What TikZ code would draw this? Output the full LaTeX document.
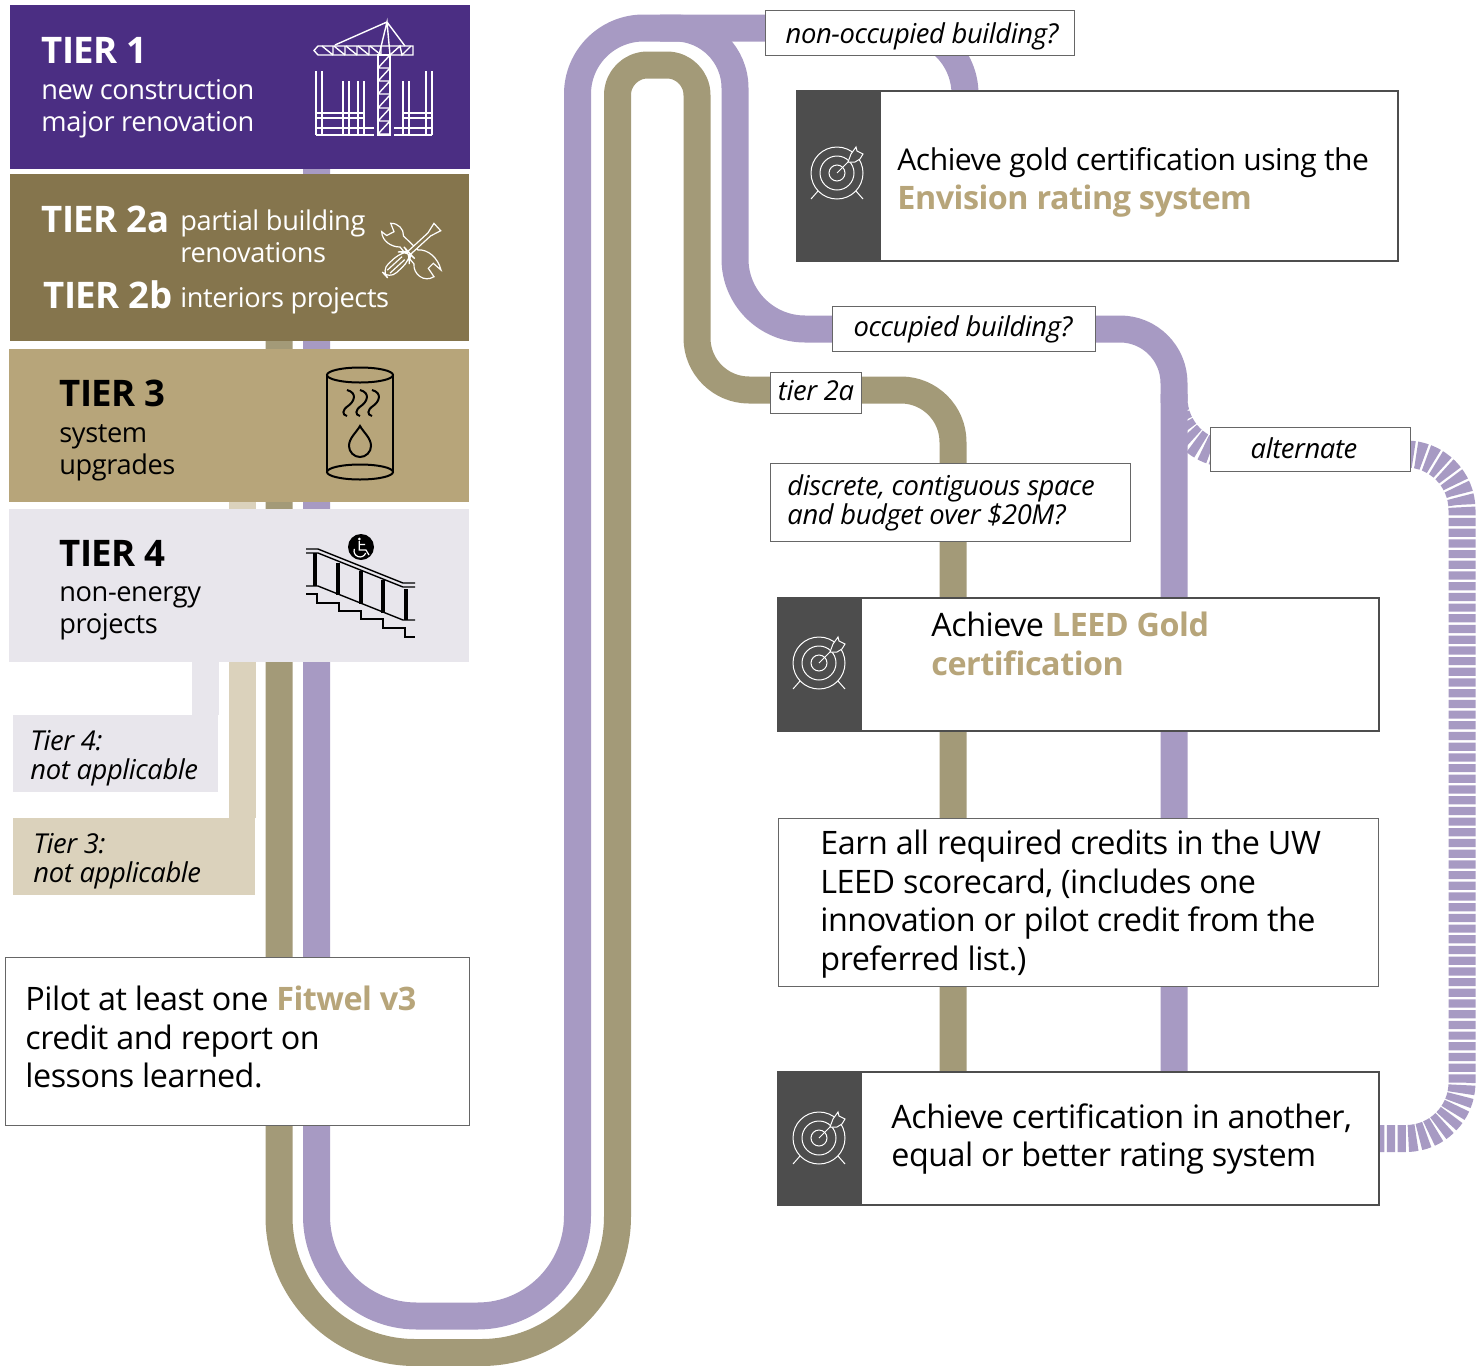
\documentclass[tikz,border=0pt]{standalone}
\usepackage{fontspec}
\setmainfont[LetterSpace=-1.5]{Open Sans}
\usetikzlibrary{backgrounds}

\definecolor{uwpurple}{HTML}{4B2E83}
\definecolor{uwmetal}{HTML}{85754D}
\definecolor{uwgold}{HTML}{B7A57A}
\definecolor{uwmist}{HTML}{E8E6EC}
\definecolor{bandlilac}{HTML}{A79AC3}
\definecolor{bandtan}{HTML}{A39A78}
\definecolor{bandsand}{HTML}{DBD2BC}
\definecolor{panelgray}{HTML}{4D4D4D}

\tikzset{
  tierbox/.style={anchor=north west,inner sep=0,outer sep=0},
  thinbox/.style={anchor=north west,inner sep=0,outer sep=0,draw=black!60,line width=0.5pt,fill=white},
  certbox/.style={anchor=north west,inner sep=0,outer sep=0,draw=panelgray,line width=1pt,fill=white},
  panelbox/.style={anchor=north west,inner sep=0,outer sep=0,fill=panelgray,minimum width=42pt},
  title/.style={anchor=west,inner sep=0,font=\bfseries\fontsize{18.3}{20}\selectfont},
  subtext/.style={anchor=west,inner sep=0,align=left,font=\fontsize{13.6}{16}\selectfont},
  bigtext/.style={anchor=west,inner sep=0,align=left,font=\fontsize{16.15}{19.25}\selectfont},
  asktext/.style={inner sep=0,align=left,font=\itshape\fontsize{13.7}{14.5}\selectfont},
  band/.style={line width=13.5pt,line join=round},
  targetmark/.pic={
    \draw[white,line width=0.5pt] (0,0) circle (26) circle (17) circle (8);
    \draw[white,line width=0.5pt] (-19,18) -- (-26,26) (19,18) -- (26,26) (0,0) -- (11,-11);
    \draw[white,line width=0.5pt,fill=panelgray] (11,-11) -- (14,-19) -- (19,-26) -- (20,-22)
      -- (26,-19) -- (23,-14) -- (18,-11) -- cycle;
  },
}

\begin{document}
\begin{tikzpicture}[x=0.5pt,y=-0.5pt]
  \useasboundingbox (0,0) rectangle (1480,1366);

  % Tiers
  \node[tierbox,fill=uwpurple,minimum width=230pt,minimum height=82pt] (tierOne) at (10,5) {};
  \node[tierbox,fill=uwmetal,minimum width=229.5pt,minimum height=83.5pt] (tierTwo) at (10,174) {};
  \node[tierbox,fill=uwgold,minimum width=230pt,minimum height=76.5pt] (tierThree) at (9,349) {};
  \node[tierbox,fill=uwmist,minimum width=230pt,minimum height=76.5pt] (tierFour) at (9,509) {};

  % Tier texts
  \node[title,white] (titleOne) at (41,50) {TIER 1};
  \node[subtext,white] (subOne) at (41,109) {new construction\\major renovation};
  \node[title,white] (titleTwoA) at (41,219) {TIER 2a};
  \node[subtext,white] (subTwoA) at (180,236) {partial building\\renovations};
  \node[title,white] (titleTwoB) at (43,295) {TIER 2b};
  \node[subtext,white] (subTwoB) at (180,301) {interiors projects};
  \node[title] (titleThree) at (59,393) {TIER 3};
  \node[subtext] (subThree) at (59,453) {system\\upgrades};
  \node[title] (titleFour) at (59,553) {TIER 4};
  \node[subtext] (subFour) at (59,613) {non-energy\\projects};

  % Not applicable boxes
  \node[tierbox,fill=uwmist,minimum width=102.5pt,minimum height=38.5pt] (skipFour) at (13,715) {};
  \node[tierbox,fill=bandsand,minimum width=121pt,minimum height=38.5pt] (skipThree) at (13,818) {};
  \node[asktext,anchor=west] (skipFourText) at (30,758) {Tier 4:\\not applicable};
  \node[asktext,anchor=west] (skipThreeText) at (33,861) {Tier 3:\\not applicable};

  % Requirement boxes
  \node[thinbox,minimum width=232pt,minimum height=84pt] (pilot) at (5,957) {};
  \node[bigtext,anchor=west] (pilotText) at (25,1037) {Pilot at least one \textcolor{uwgold}{\bfseries Fitwel v3}\\credit and report on\\lessons learned.};

  \node[certbox,minimum width=300.5pt,minimum height=85pt] (envision) at (797,91) {};
  \node[panelbox,minimum height=85pt] (envisionPanel) at (797,91) {};
  \node[bigtext,anchor=west] (envisionText) at (897,182.5) {{\fontsize{15}{19.25}\selectfont Achieve gold certification using the}\\\textcolor{uwgold}{\bfseries Envision rating system}};

  \node[certbox,minimum width=300.5pt,minimum height=66.5pt] (leed) at (778,598) {};
  \node[panelbox,minimum height=66.5pt] (leedPanel) at (778,598) {};
  \node[bigtext,anchor=west] (leedText) at (931,644) {Achieve \textcolor{uwgold}{\bfseries LEED Gold}\\\textcolor{uwgold}{\bfseries certification}};

  \node[thinbox,minimum width=300pt,minimum height=84pt] (credits) at (778,818) {};
  \node[bigtext,anchor=west] (creditsText) at (820,904) {Earn all required credits in the UW\\LEED scorecard, (includes one\\innovation or pilot credit from the\\preferred list.)};

  \node[certbox,minimum width=300.5pt,minimum height=66.5pt] (other) at (778,1072) {};
  \node[panelbox,minimum height=66.5pt] (otherPanel) at (778,1072) {};
  \node[bigtext,anchor=west] (otherText) at (891,1139) {Achieve certification in another,\\equal or better rating system};

  % Question labels
  \node[thinbox,minimum width=154.5pt,minimum height=22.5pt] (nonOccupied) at (765,10) {};
  \node[asktext] (nonOccupiedText) at (922,36) {non-occupied building?};
  \node[thinbox,minimum width=131.5pt,minimum height=22.5pt] (occupied) at (832,306) {};
  \node[asktext] (occupiedText) at (963,329) {occupied building?};
  \node[thinbox,minimum width=45.5pt,minimum height=20.5pt] (tierTwoA) at (770,372) {};
  \node[asktext] (tierTwoAText) at (816,391) {tier 2a};
  \node[thinbox,minimum width=180pt,minimum height=39pt] (discrete) at (770,463) {};
  \node[asktext,anchor=west] (discreteText) at (787,503) {discrete, contiguous space\\and budget over \$20M?};
  \node[thinbox,minimum width=100pt,minimum height=22pt] (alternate) at (1210,427) {};
  \node[asktext] (alternateText) at (1304,448) {alternate};

  % Bends of the routes
  \coordinate (lilacDown) at (316.5,1316);
  \coordinate (lilacFoot) at (577.5,1316);
  \coordinate (lilacTop) at (577.5,28);
  \coordinate (lilacSplit) at (660,28);
  \coordinate (lilacFork) at (735,28);
  \coordinate (lilacDrop) at (965,28);
  \coordinate (lilacBend) at (735,329);
  \coordinate (lilacTurn) at (1174,329);
  \coordinate (lilacOff) at (1174,394);
  \coordinate (dashKnee) at (1174,454);
  \coordinate (dashCorner) at (1462,454);
  \coordinate (tanDown) at (279,1352.5);
  \coordinate (tanFoot) at (617.5,1352.5);
  \coordinate (tanTop) at (617.5,65);
  \coordinate (tanFork) at (697,65);
  \coordinate (tanBend) at (697,390);
  \coordinate (tanTurn) at (953,390);
  \coordinate (sandDown) at (242,502);
  \coordinate (mistDown) at (205,662);

  \begin{scope}[on background layer]
    % Dashed route
    \draw[band,bandlilac,dash pattern=on 4.1pt off 1.25pt,rounded corners=28pt]
      (lilacOff) -- (dashKnee) -- (dashCorner) -- (dashCorner |- other.east) -- (other.east);
    % Lilac routes
    \draw[band,bandlilac,rounded corners=50pt] (tierOne.south -| lilacDown) -- (lilacDown) -- (lilacFoot)
      [rounded corners=33pt] -- (lilacTop) -- (lilacDrop)
      [rounded corners=30pt] -- (lilacDrop |- envision.north);
    \draw[band,bandlilac,rounded corners=30pt] (lilacSplit) -- (lilacFork)
      [rounded corners=35pt] -- (lilacBend) -- (occupied.west |- lilacBend);
    \draw[band,bandlilac,rounded corners=27pt] (occupied.east |- lilacBend) -- (lilacTurn) -- (lilacTurn |- other.north);
    % Tan routes
    \draw[band,bandtan,rounded corners=68pt] (tierTwo.south -| tanDown) -- (tanDown) -- (tanFoot)
      [rounded corners=15pt] -- (tanTop) -- (tanFork)
      [rounded corners=26pt] -- (tanBend) -- (tanTurn)
      -- (tanTurn |- other.north);
    % Sand and mist routes
    \draw[band,bandsand] (sandDown) -- (sandDown |- skipThree.north);
    \draw[band,uwmist] (mistDown) -- (mistDown |- skipFour.north);
  \end{scope}

  % Crane
  \begin{scope}[white,line width=0.7pt]
    \draw (314,50.5) -- (318,46) -- (413,46) -- (413,55) -- (318,55) -- cycle;
    \foreach \x in {322,334,346,358,370} {
      \draw (\x,46) -- (\x+11,55) (\x+11,46) -- (\x+11,55);
    }
    \draw (390,55) -- (400,46) -- (402,55) -- (411,46);
    \draw (335,45) -- (387,22) -- (405,46) (379,55) -- (387,22) -- (390,55);
    \draw (378,55) rectangle (390,135);
    \foreach \y in {55,68,81,95,108,121} {
      \draw (378,\y+13) -- (390,\y) (378,\y+13) -- (390,\y+13);
    }
    \foreach \x in {316,322,426,432} {
      \draw (\x,71) -- (\x,135);
    }
    \foreach \x in {343,349,358,364,403,409} {
      \draw (\x,81) -- (\x,135);
    }
    \draw (316,113) -- (363,113) (316,118) -- (363,118) (403,113) -- (432,113) (403,118) -- (432,118);
    \draw (316,128) -- (374,128) (316,135) -- (374,135) (394,128) -- (432,128) (394,135) -- (432,135);
  \end{scope}

  % Tools
  \draw[white,line width=0.6pt] (390.7,223.3) .. controls (398,223) and (404,229) .. (403.5,236) -- (418,250)
    .. controls (428,249) and (438,258) .. (441,270) -- (433.3,263.3) -- (428.3,268.3) -- (434,276.7)
    .. controls (424,283) and (413,274) .. (414,264) -- (400,247) .. controls (391,247) and (382,241) .. (381.7,231.7)
    -- (386.7,235.5) -- (394,231.7) -- cycle;
  \begin{scope}[shift={(385,275)},rotate=42.5,white,line width=0.6pt]
    \draw[fill=uwmetal,rounded corners=5pt] (0,-6) -- (28,-6) -- (33,-2) -- (33,2) -- (28,6) -- (0,6) -- cycle;
    \draw[fill=uwmetal] (33,-2) -- (60,-2) -- (71,-5) -- (71,5) -- (60,2) -- (33,2) -- cycle;
    \draw (5,-2) -- (25,-2) (5,2) -- (25,2);
  \end{scope}

  % Tank
  \begin{scope}[black,line width=1pt]
    \draw (327,375) -- (327,472) (393,375) -- (393,472);
    \draw (360,375) ellipse (33 and 7.5) (360,472) ellipse (33 and 7.5);
    \foreach \x in {0,13,25} {
      \draw (347+\x,390) .. controls (358+\x,393) and (354+\x,402) .. (348+\x,406)
        .. controls (342+\x,410) and (342+\x,415) .. (347+\x,416);
    }
    \draw (360,426) .. controls (356,433) and (349,438) .. (349,446) .. controls (349,452) and (354,457) .. (360,457)
      .. controls (366,457) and (371,452) .. (371,446) .. controls (371,438) and (364,433) .. (360,426) -- cycle;
  \end{scope}

  % Stairs
  \begin{scope}[black,line width=0.7pt]
    \draw (306,549) -- (318,549) -- (403,583) -- (415,583);
    \draw (306,553) -- (318,553) -- (403,587) -- (415,587);
    \draw (306,586) -- (318,586) -- (403,620) -- (415,620);
    \draw (306,594) -- (317,594) -- (317,603) -- (339,603) -- (339,611) -- (361,611) -- (361,619) -- (383,619)
      -- (383,628) -- (405,628) -- (405,637) -- (415,637);
    \foreach \x/\ya/\yb in {315/553/586,338/563/595,361/571/604,383/580/613,406/589/620} {
      \draw[line width=2pt] (\x,\ya) -- (\x,\yb);
    }
    \fill (361,547) circle (13);
    \begin{scope}[shift={(361,547)},white,line width=0.6pt]
      \fill (-1.7,-8) circle (1.5);
      \draw (-1.7,-6) -- (-1.7,3) -- (5,3) -- (8,8) (-1.7,-2.5) -- (4,-2.5);
      \draw (-6.6,1.9) arc (200:20:6);
    \end{scope}
  \end{scope}

  % Targets
  \foreach \cx/\cy in {837/173,819/663,819/1138} {
    \pic at (\cx,\cy) {targetmark};
  }
\end{tikzpicture}
\end{document}
